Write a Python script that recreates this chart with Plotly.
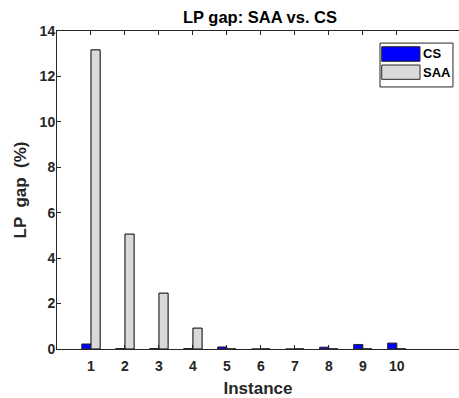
import plotly.graph_objects as go

instances = [1, 2, 3, 4, 5, 6, 7, 8, 9, 10]
cs_gap = [0.22, 0.02, 0.02, 0.02, 0.09, 0.0, 0.0, 0.08, 0.2, 0.26]
saa_gap = [13.17, 5.06, 2.46, 0.92, 0.0, 0.0, 0.0, 0.0, 0.0, 0.0]
y_ticks = [0, 2, 4, 6, 8, 10, 12, 14]
series_names = ["CS", "SAA"]
series_colors = ["#0000ff", "#d9d9d9"]

font_fam = "Liberation Sans, Arial, sans-serif"
txt = "#262626"

fig = go.Figure()
fig.add_trace(go.Bar(x=instances, y=cs_gap, name=series_names[0],
                     marker=dict(color=series_colors[0], line=dict(color="#262626", width=1))))
fig.add_trace(go.Bar(x=instances, y=saa_gap, name=series_names[1],
                     marker=dict(color=series_colors[1], line=dict(color="#000000", width=1))))

# MATLAB-style legend (large swatches) drawn in paper coordinates
shapes = [dict(type="rect", xref="paper", yref="paper", x0=0.8035, x1=0.985, y0=0.824, y1=0.962,
               line=dict(color="#262626", width=1), fillcolor="white", layer="above")]
annotations = []
sw_y = [(0.9047, 0.9506), (0.848, 0.893)]
txt_y = [0.9277, 0.871]
for name, col, (y0, y1), ty in zip(series_names, series_colors, sw_y, txt_y):
    shapes.append(dict(type="rect", xref="paper", yref="paper", x0=0.8077, x1=0.903, y0=y0, y1=y1,
                       line=dict(color="#262626", width=1), fillcolor=col, layer="above"))
    annotations.append(dict(text=f"<b>{name}</b>", xref="paper", yref="paper", x=0.906, y=ty,
                            xanchor="left", yanchor="middle", showarrow=False,
                            font=dict(size=13, color="#000000")))

fig.update_layout(
    width=459, height=398,
    margin=dict(l=57, r=0, t=31, b=49),
    paper_bgcolor="white", plot_bgcolor="white",
    barmode="group", bargap=0.46, bargroupgap=0,
    font=dict(family=font_fam, color=txt, size=14),
    title=dict(text="<b>LP gap: SAA vs. CS</b>", x=260/459, xanchor="center",
               y=1 - 17/398, yanchor="middle", font=dict(size=16.5, color="#000000")),
    showlegend=False,
    shapes=shapes,
    annotations=annotations,
    xaxis=dict(range=[0, 11.83], tickvals=instances,
               ticktext=[f"<b>{i}</b>" for i in instances],
               ticks="inside", ticklen=4, tickcolor="#262626",
               ticklabelstandoff=4,
               showline=True, linecolor="#262626", linewidth=1, mirror="ticks",
               showgrid=False, zeroline=False,
               title=dict(text="<b>Instance</b>", font=dict(size=17), standoff=9)),
    yaxis=dict(range=[0, 14], tickvals=y_ticks,
               ticktext=[f"<b>{v}</b>" for v in y_ticks],
               ticks="inside", ticklen=4, tickcolor="#262626",
               ticklabelstandoff=-2,
               showline=True, linecolor="#262626", linewidth=1,
               showgrid=False, zeroline=False,
               title=dict(text="<b>LP  gap  (%)</b>", font=dict(size=17), standoff=8)),
)

fig.write_html("out.html")
